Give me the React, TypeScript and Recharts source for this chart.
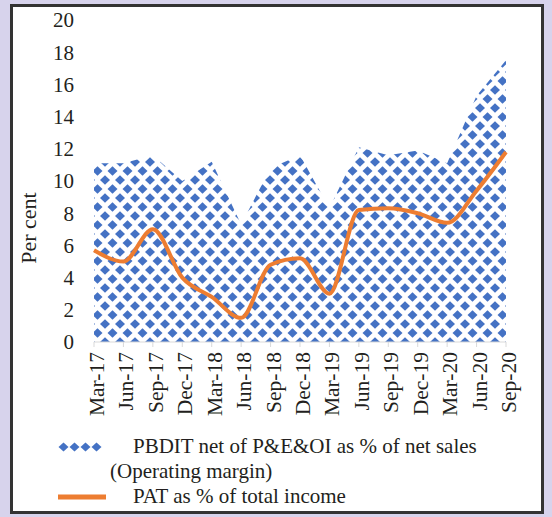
import { Area, ComposedChart, Label, Line, XAxis, YAxis } from "recharts";

const quarters = [
  "Mar-17", "Jun-17", "Sep-17", "Dec-17", "Mar-18", "Jun-18", "Sep-18", "Dec-18",
  "Mar-19", "Jun-19", "Sep-19", "Dec-19", "Mar-20", "Jun-20", "Sep-20",
];
// PBDIT net of P&E&OI as % of net sales (Operating margin)
const operatingMargin = [11.1, 11.1, 11.6, 10.0, 11.2, 7.3, 10.8, 11.6, 8.3, 12.1, 11.6, 11.9, 11.1, 15.3, 17.5];
// PAT as % of total income
const patShare = [5.7, 5.0, 7.0, 4.0, 2.8, 1.5, 4.8, 5.2, 3.0, 8.2, 8.3, 8.0, 7.4, 9.4, 11.8];
const yTicks = [0, 2, 4, 6, 8, 10, 12, 14, 16, 18, 20];

const data = quarters.map((quarter, i) => ({
  quarter,
  margin: operatingMargin[i],
  pat: patShare[i],
}));

const FONT = '"Liberation Serif", "Times New Roman", serif';
const INK = "#231f20";
const BLUE = "#4472c4";
const ORANGE = "#ed7d31";

// diamond centred on (cx, cy)
const diamond = (cx: number, cy: number, w = 5, h = 4.7) =>
  `${cx},${cy - h} ${cx + w},${cy} ${cx},${cy + h} ${cx - w},${cy}`;

function DiamondPattern({ id }: { id: string }) {
  return (
    <pattern id={id} width={15} height={18} patternUnits="userSpaceOnUse">
      <rect width={15} height={18} fill="#fff" />
      <polygon points={diamond(7.5, 9)} fill={BLUE} />
      <polygon points={diamond(0, 0)} fill={BLUE} />
      <polygon points={diamond(15, 0)} fill={BLUE} />
      <polygon points={diamond(0, 18)} fill={BLUE} />
      <polygon points={diamond(15, 18)} fill={BLUE} />
    </pattern>
  );
}

function QuarterTick(props: any) {
  const { x, y, payload } = props;
  const tx = x + 10;
  const ty = y + 3;
  return (
    <text
      x={tx}
      y={ty}
      transform={`rotate(-90 ${tx} ${ty})`}
      textAnchor="end"
      fontFamily={FONT}
      fontSize={21.5}
      fill={INK}
    >
      {payload.value}
    </text>
  );
}

export default function App() {
  return (
    <div
      style={{
        position: "absolute",
        left: 0,
        top: 0,
        width: 552,
        height: 517,
        background: "#d7d3ec",
        fontFamily: FONT,
      }}
    >
      <div
        style={{
          position: "absolute",
          left: 10,
          top: 4,
          width: 528,
          height: 504,
          background: "#fff",
          border: "3px solid #333",
        }}
      />
      <div style={{ position: "absolute", left: 0, top: 0 }}>
        <ComposedChart
          width={552}
          height={517}
          data={data}
          margin={{ top: 20, right: 46, bottom: 95, left: 34 }}
        >
          <defs>
            <DiamondPattern id="diamonds" />
          </defs>
          <XAxis
            dataKey="quarter"
            interval={0}
            height={80}
            tickSize={5}
            axisLine={{ stroke: "#d9d9d9" }}
            tickLine={{ stroke: "#d9d9d9" }}
            tick={<QuarterTick />}
          />
          <YAxis
            domain={[0, 20]}
            ticks={yTicks}
            width={60}
            axisLine={false}
            tickLine={false}
            tickSize={0}
            tickMargin={20}
            tick={{ fill: INK, fontSize: 21, fontFamily: FONT }}
          >
            <Label
              content={() => (
                <text
                  x={28}
                  y={228}
                  transform="rotate(-90 28 228)"
                  textAnchor="middle"
                  dominantBaseline="central"
                  fontFamily={FONT}
                  fontSize={22}
                  fill={INK}
                >
                  Per cent
                </text>
              )}
            />
          </YAxis>
          <Area
            type="linear"
            dataKey="margin"
            stroke="none"
            fill="url(#diamonds)"
            fillOpacity={1}
            isAnimationActive={false}
          />
          <Line
            type="monotone"
            dataKey="pat"
            stroke={ORANGE}
            strokeWidth={4}
            dot={false}
            isAnimationActive={false}
          />
        </ComposedChart>
      </div>
      <div style={{ position: "absolute", left: 58, top: 434, fontSize: 21, color: INK, lineHeight: "25px" }}>
        <div style={{ display: "flex", alignItems: "center" }}>
          <svg width={44} height={10} style={{ marginRight: 31 }}>
            <defs>
              <pattern id="legendDiamonds" width={11} height={10} patternUnits="userSpaceOnUse">
                <rect width={11} height={10} fill="#fff" />
                <polygon points="5.5,0.5 10.5,5 5.5,9.5 0.5,5" fill={BLUE} />
              </pattern>
            </defs>
            <rect width={44} height={10} fill="url(#legendDiamonds)" />
          </svg>
          <span>PBDIT net of P&amp;E&amp;OI as % of net sales</span>
        </div>
        <div style={{ marginLeft: 52 }}>(Operating margin)</div>
        <div style={{ display: "flex", alignItems: "center" }}>
          <svg width={48} height={6} style={{ marginRight: 27 }}>
            <rect width={48} height={5} y={0.5} fill={ORANGE} />
          </svg>
          <span>PAT as % of total income</span>
        </div>
      </div>
    </div>
  );
}
